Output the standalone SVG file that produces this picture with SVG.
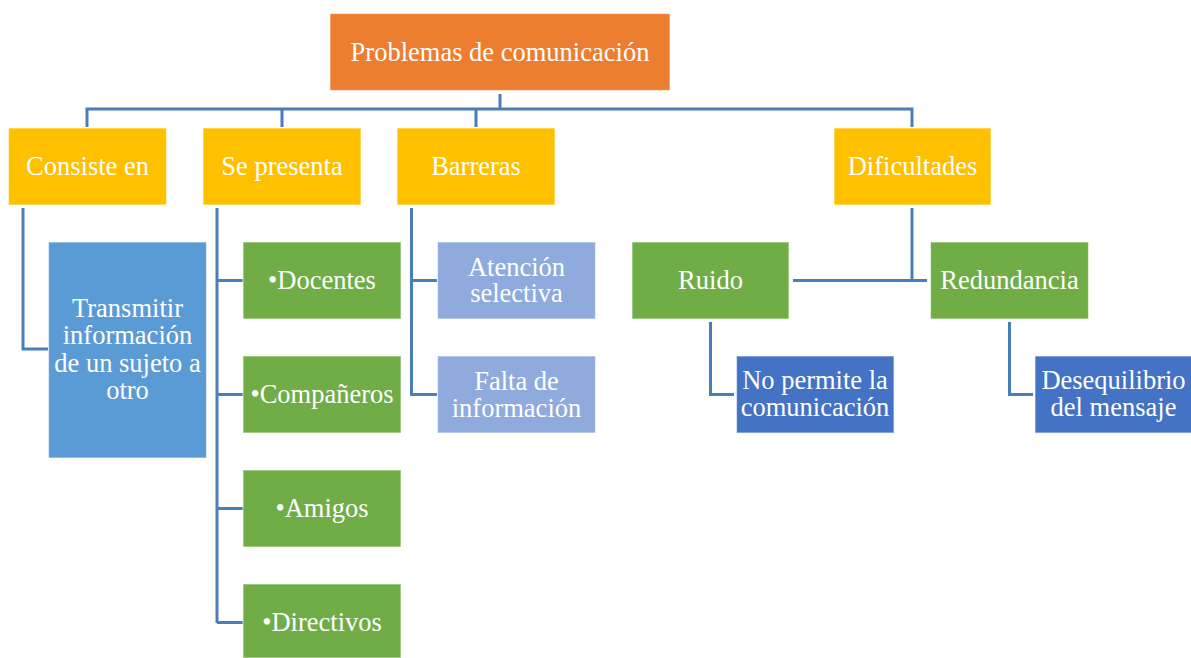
<svg xmlns="http://www.w3.org/2000/svg" width="1191" height="658" viewBox="0 0 1191 658" font-family="'Liberation Serif', serif">
<style>
.box{stroke:#ffffff;stroke-opacity:0.55;stroke-width:1.2}
.orange{fill:#ED7D31}
.gold{fill:#FFC000}
.green{fill:#70AD47}
.blue{fill:#5B9BD5}
.lav{fill:#8FAADC}
.dblue{fill:#4472C4}
.t{font-family:'Liberation Serif',serif;font-size:26.5px;fill:#ffffff;text-anchor:middle}
.conn path{fill:none;stroke:#4A7EBB;stroke-width:3}
</style>
<rect width="1191" height="658" fill="#ffffff"/>
<g class="conn" id="connectors">
<path d="M500,94 V109 M87,127 V109 H912 V127 M282,109 V127 M476,109 V127"/>
<path d="M23,208 V349 H48"/>
<path d="M217,208 V623 M217,280.5 H243 M217,394.5 H243 M217,508.5 H243 M217,622.5 H243"/>
<path d="M411.5,208 V394.5 H437 M411.5,280.5 H437"/>
<path d="M912,208 V280.5 M793,280.5 H927"/>
<path d="M710.5,322 V394.5 H734"/>
<path d="M1009.5,322 V394.5 H1033"/>
</g>
<g id="root"><rect class="box orange" x="330" y="13.5" width="340" height="77"/><text class="t" font-family="'Liberation Serif', serif" x="500" y="61">Problemas de comunicación</text></g>
<g id="consiste"><rect class="box gold" x="8.5" y="128" width="158" height="77"/><text class="t" font-family="'Liberation Serif', serif" x="87.5" y="175">Consiste en</text></g>
<g id="sepresenta"><rect class="box gold" x="203" y="128" width="158" height="77"/><text class="t" font-family="'Liberation Serif', serif" x="282" y="175">Se presenta</text></g>
<g id="barreras"><rect class="box gold" x="397" y="128" width="158" height="77"/><text class="t" font-family="'Liberation Serif', serif" x="476" y="175">Barreras</text></g>
<g id="dificultades"><rect class="box gold" x="834" y="128" width="157" height="77"/><text class="t" font-family="'Liberation Serif', serif" x="912.5" y="175">Dificultades</text></g>
<g id="transmitir"><rect class="box blue" x="48.5" y="242" width="158" height="216"/><text class="t" font-family="'Liberation Serif', serif" x="127.5" y="317">Transmitir</text><text class="t" font-family="'Liberation Serif', serif" x="127.5" y="344">información</text><text class="t" font-family="'Liberation Serif', serif" x="127.5" y="371.5">de un sujeto a</text><text class="t" font-family="'Liberation Serif', serif" x="127.5" y="399">otro</text></g>
<g id="docentes"><rect class="box green" x="243" y="242" width="158" height="77"/><text class="t" font-family="'Liberation Serif', serif" x="322" y="288.5">•Docentes</text></g>
<g id="companeros"><rect class="box green" x="243" y="356" width="158" height="77"/><text class="t" font-family="'Liberation Serif', serif" x="322" y="402.5">•Compañeros</text></g>
<g id="amigos"><rect class="box green" x="243" y="470" width="158" height="77"/><text class="t" font-family="'Liberation Serif', serif" x="322" y="517">•Amigos</text></g>
<g id="directivos"><rect class="box green" x="243" y="584" width="158" height="74"/><text class="t" font-family="'Liberation Serif', serif" x="322" y="631">•Directivos</text></g>
<g id="atencion"><rect class="box lav" x="437.5" y="242" width="158" height="77"/><text class="t" font-family="'Liberation Serif', serif" x="516.5" y="276">Atención</text><text class="t" font-family="'Liberation Serif', serif" x="516.5" y="302">selectiva</text></g>
<g id="falta"><rect class="box lav" x="437.5" y="356" width="158" height="77"/><text class="t" font-family="'Liberation Serif', serif" x="516.5" y="390">Falta de</text><text class="t" font-family="'Liberation Serif', serif" x="516.5" y="416.5">información</text></g>
<g id="ruido"><rect class="box green" x="632" y="242" width="157" height="77"/><text class="t" font-family="'Liberation Serif', serif" x="710.5" y="289">Ruido</text></g>
<g id="redundancia"><rect class="box green" x="930.5" y="242" width="158" height="77"/><text class="t" font-family="'Liberation Serif', serif" x="1009.5" y="289">Redundancia</text></g>
<g id="nopermite"><rect class="box dblue" x="736.5" y="356" width="157.5" height="77"/><text class="t" font-family="'Liberation Serif', serif" x="815" y="388.5">No permite la</text><text class="t" font-family="'Liberation Serif', serif" x="815" y="416">comunicación</text></g>
<g id="desequilibrio"><rect class="box dblue" x="1035" y="356" width="157" height="77"/><text class="t" font-family="'Liberation Serif', serif" x="1113.5" y="388.5">Desequilibrio</text><text class="t" font-family="'Liberation Serif', serif" x="1113.5" y="416">del mensaje</text></g>
</svg>
